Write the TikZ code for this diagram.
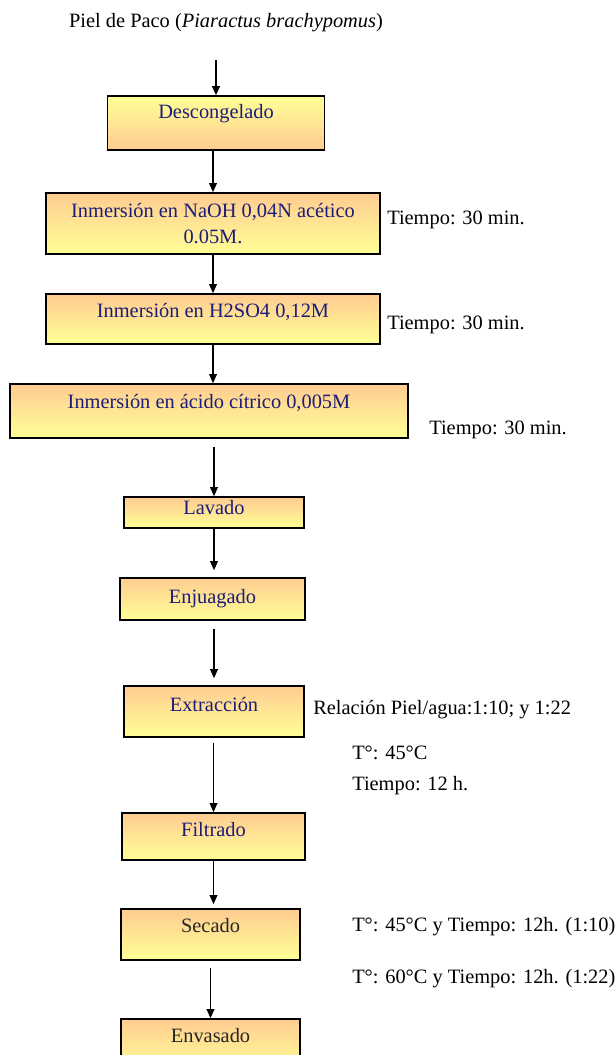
\documentclass[tikz,border=0pt]{standalone}
\usepackage{fontspec}
\setmainfont{Liberation Serif}
\usepackage{xcolor}
\usetikzlibrary{positioning, arrows.meta}
\definecolor{boxorange}{RGB}{255,204,145}
\definecolor{boxyellow}{RGB}{255,255,150}
\definecolor{boxtext}{RGB}{28,28,122}

\begin{document}
\begin{tikzpicture}[
        x=0.025cm, y=-0.025cm,
        every node/.style={font=\fontsize{14.5}{18.5}\selectfont},
        stepbox/.style={rectangle, draw, line width=1.1pt, top color=boxorange, bottom color=boxyellow, text=boxtext, align=center, inner sep=1pt},
        lift/.style={text height=10pt, text depth=#1},
        note/.style={anchor=west, inner sep=0pt},
        arrow/.style={-{Triangle[length=6.5pt, width=5.5pt]}, line width=1pt}
    ]
%
    \useasboundingbox (0,0) rectangle (614,1055);
    \clip (0,0) rectangle (614,1055);
%
    % Raw material
    \node (title) at (226,23) {Piel de Paco (\textit{Piaractus brachypomus})};
%
    % Process steps
    \node[stepbox, lift=16pt, top color=boxyellow, bottom color=boxorange, minimum width=5.43cm, minimum height=1.35cm] (desc) at (216,123) {Descongelado};
    \node[stepbox, minimum width=8.35cm, minimum height=1.525cm] (naoh) at (213,223.5) {Inmersión en NaOH 0,04N acético\\0.05M.};
    \node[stepbox, lift=12pt, minimum width=8.35cm, minimum height=1.25cm] (hso) at (213,319) {Inmersión en H2SO4 0,12M};
    \node[stepbox, lift=13.4pt, minimum width=9.95cm, minimum height=1.35cm] (citric) at (209,411) {Inmersión en ácido cítrico 0,005M};
    \node[stepbox, lift=7pt, minimum width=4.5cm, minimum height=0.775cm] (lavado) at (214,512.5) {Lavado};
    \node[stepbox, lift=3pt, minimum width=4.63cm, minimum height=1.05cm] (enjuag) at (212.5,599) {Enjuagado};
    \node[stepbox, lift=9.8pt, minimum width=4.5cm, minimum height=1.275cm] (extrac) at (214,711.5) {Extracción};
    \node[stepbox, lift=9.8pt, minimum width=4.58cm, minimum height=1.175cm] (filtr) at (213.5,836.5) {Filtrado};
    \node[stepbox, lift=12.6pt, text=black!85, minimum width=4.48cm, minimum height=1.275cm] (secado) at (210.5,934.5) {Secado};
    \node[stepbox, lift=12.6pt, text=black!85, minimum width=4.48cm, minimum height=1.275cm] (envas) at (210.5,1044.5) {Envasado};
%
    % Conditions
    \node[note] (t1) at (387,220) {Tiempo: 30 min.};
    \node[note] (t2) at (387,325) {Tiempo: 30 min.};
    \node[note] (t3) at (429,430) {Tiempo: 30 min.};
    \node[note] (ratio) at (313,710) {Relación Piel/agua:1:10; y 1:22};
    \node[note] (temp) at (352,753) {T°: 45°C};
    \node[note] (hours) at (352,786) {Tiempo: 12 h.};
    \node[note] (dry1) at (352,927) {T°: 45°C y Tiempo: 12h. (1:10)};
    \node[note] (dry2) at (352,979) {T°: 60°C y Tiempo: 12h. (1:22)};
%
    \draw[arrow, shorten <=0.575cm] (desc.north |- title.south) -- (desc.north);
    \draw[arrow] (naoh.north |- desc.south) -- (naoh.north);
    \draw[arrow] (hso.north |- naoh.south) -- (hso.north);
    \draw[arrow] (hso.south) -- (hso.south |- citric.north);
    \draw[arrow, shorten <=0.2cm] (lavado.north |- citric.south) -- (lavado.north);
    \draw[arrow, shorten >=0.175cm] (lavado.south) -- (lavado.south |- enjuag.north);
    \draw[arrow, shorten <=0.2cm, shorten >=0.175cm] (extrac.north |- enjuag.south) -- (extrac.north);
    \draw[arrow, shorten <=0.125cm] (filtr.north |- extrac.south) -- (filtr.north);
    \draw[arrow, shorten >=0.1cm] (filtr.south) -- (filtr.south |- secado.north);
    \draw[arrow, shorten <=0.175cm] (secado.south) -- (envas.north);
%
\end{tikzpicture}
\end{document}
